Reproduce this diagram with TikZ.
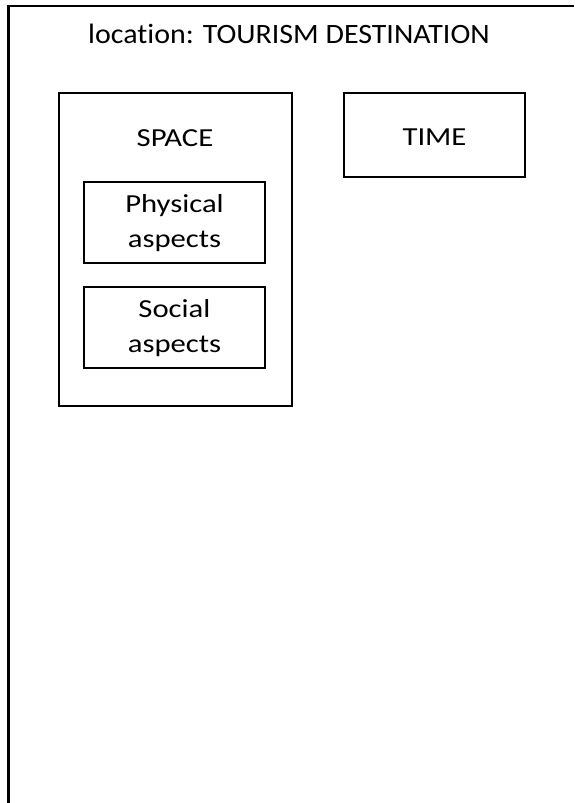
\documentclass[tikz,border=0pt]{standalone}
\usepackage{fontspec}
\setmainfont{Carlito}
\newfontfamily\titlefont{Carlito}[FakeStretch=1.07,RawFeature={-liga}]
\newfontfamily\boxfont{Carlito}[FakeStretch=1.18,RawFeature={-liga}]
\begin{document}
\begin{tikzpicture}[x=1pt,y=-1pt,
  box/.style={draw=black,line width=1.4pt,rectangle,inner sep=0pt},
  label/.style={font=\boxfont\fontsize{26}{35}\selectfont,align=center,inner sep=0pt},
  twoline/.style={text height=52pt,text depth=2pt}]
\useasboundingbox (0,0) rectangle (574,803);
% outer frame: top and left edges only
\coordinate (tr) at (574,6);
\coordinate (tl) at (8.5,6);
\coordinate (bl) at (8.5,803);
\draw[line width=2.2pt] (tr) -- (tl) -- (bl);
\node[font=\titlefont\fontsize{28}{34}\selectfont,inner sep=0pt,anchor=base] (title) at (289,43.3) {location: TOURISM DESTINATION};
% space group
\node[box,minimum width=233pt,minimum height=313pt] (space) at (175.5,249.5) {};
\node[label,anchor=base] (spacelbl) at (175,146) {SPACE};
\node[box,minimum width=181pt,minimum height=81pt,label,twoline] (phys) at (174.5,222.5) {Physical\\aspects};
\node[box,minimum width=181pt,minimum height=81pt,label,twoline] (soc) at (174.5,327.5) {Social\\aspects};
% time
\node[box,minimum width=181pt,minimum height=84pt,label,text height=20pt,text depth=0pt] (time) at (434.5,135) {TIME};
\end{tikzpicture}
\end{document}
